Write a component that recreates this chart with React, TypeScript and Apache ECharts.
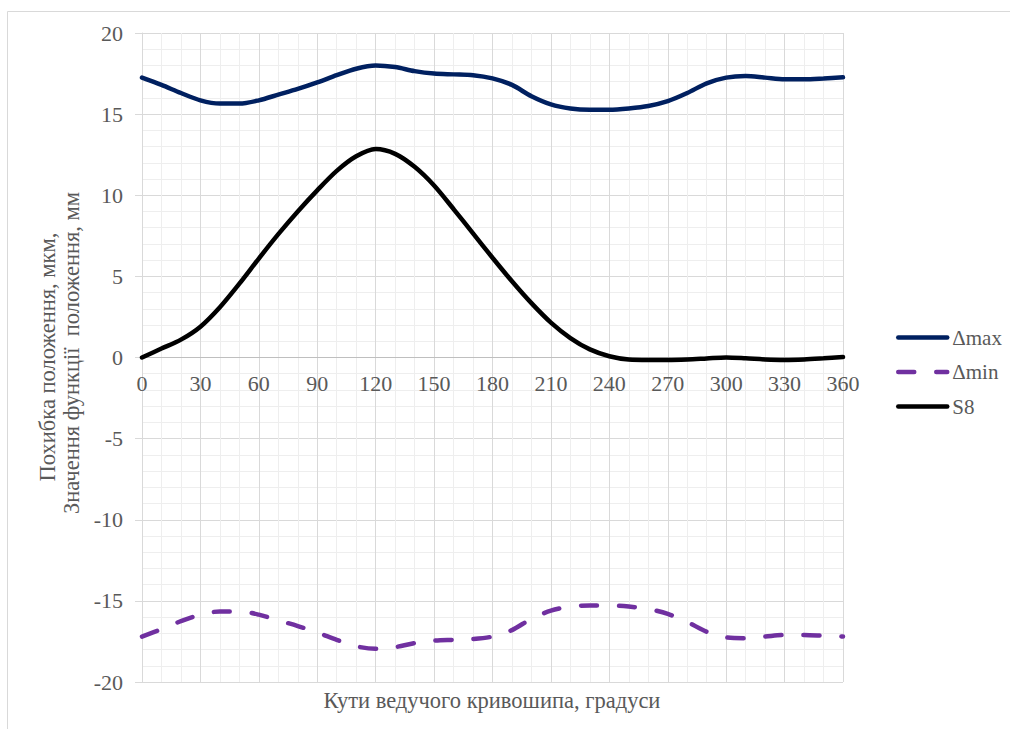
import React, { useEffect, useRef } from "react";
import * as echarts from "echarts";

const angles = [0, 10, 20, 30, 40, 50, 60, 70, 80, 90, 100, 110, 120, 130, 140, 150, 160, 170, 180, 190, 200, 210, 220, 230, 240, 250, 260, 270, 280, 290, 300, 310, 320, 330, 340, 350, 360];
const deltaMax = [17.25, 16.8, 16.3, 15.85, 15.65, 15.65, 15.85, 16.2, 16.55, 16.95, 17.4, 17.8, 18.0, 17.9, 17.65, 17.5, 17.45, 17.4, 17.2, 16.8, 16.1, 15.6, 15.35, 15.27, 15.27, 15.35, 15.5, 15.8, 16.3, 16.9, 17.25, 17.35, 17.25, 17.15, 17.15, 17.2, 17.27];
const deltaMin = [-17.2, -16.75, -16.25, -15.85, -15.65, -15.65, -15.85, -16.2, -16.55, -16.95, -17.4, -17.8, -17.95, -17.85, -17.6, -17.45, -17.4, -17.35, -17.2, -16.8, -16.1, -15.6, -15.35, -15.28, -15.28, -15.35, -15.5, -15.8, -16.3, -16.9, -17.25, -17.3, -17.2, -17.1, -17.1, -17.15, -17.2];
const s8 = [0, 0.55, 1.1, 1.9, 3.1, 4.55, 6.1, 7.6, 9.0, 10.3, 11.5, 12.4, 12.85, 12.55, 11.75, 10.6, 9.15, 7.65, 6.15, 4.7, 3.35, 2.15, 1.2, 0.5, 0.08, -0.12, -0.15, -0.15, -0.12, -0.06, 0.0, -0.05, -0.12, -0.15, -0.12, -0.05, 0.03];
const xTicks = [0, 30, 60, 90, 120, 150, 180, 210, 240, 270, 300, 330, 360];
const yTicks = [-20, -15, -10, -5, 0, 5, 10, 15, 20];
const seriesNames = ["Δmax", "Δmin", "S8"];
const xTitle = "Кути ведучого кривошипа, градуси";
const yTitle1 = "Похибка положення, мкм,";
const yTitle2 = "Значення функції  положення, мм";

const FONT = "Liberation Serif";
const TEXT = "#595959";
const GRID_TOP = 33;
const GRID_BOTTOM = 47;
const CHART_H = 729;

export default function App() {
  const ref = useRef<HTMLDivElement>(null);
  useEffect(() => {
    if (!ref.current) return;
    const chart = echarts.init(ref.current, null, { renderer: "svg" });
    const pair = (arr: number[]) => angles.map((a, i) => [a, arr[i]]);
    const plotH = CHART_H - GRID_TOP - GRID_BOTTOM;
    const yMin = yTicks[0];
    const yMax = yTicks[yTicks.length - 1];
    // move the x axis (line + labels) up to the zero level of the y axis
    const zeroOffset = -plotH * (0 - yMin) / (yMax - yMin);
    chart.setOption({
      animation: false,
      backgroundColor: "#ffffff",
      textStyle: { fontFamily: FONT },
      grid: { left: 142, right: 167, top: GRID_TOP, bottom: GRID_BOTTOM, containLabel: false },
      xAxis: {
        type: "value",
        min: xTicks[0],
        max: xTicks[xTicks.length - 1],
        interval: 30,
        offset: zeroOffset,
        axisLine: { onZero: false, lineStyle: { color: "#bfbfbf", width: 1 } },
        axisTick: { show: false },
        axisLabel: { color: TEXT, fontSize: 22, fontFamily: FONT, margin: 15 },
        splitLine: { show: true, lineStyle: { color: "#d9d9d9", width: 1 } },
        minorTick: { show: false, splitNumber: 3 },
        minorSplitLine: { show: true, lineStyle: { color: "#eeeeee", width: 1 } },
      },
      yAxis: {
        type: "value",
        min: yMin,
        max: yMax,
        interval: 5,
        axisLine: { show: true, onZero: false, lineStyle: { color: "#d9d9d9" } },
        axisTick: { show: true, length: 7, lineStyle: { color: "#d9d9d9" } },
        axisLabel: { color: TEXT, fontSize: 22, fontFamily: FONT, margin: 19 },
        splitLine: { show: true, lineStyle: { color: "#d9d9d9", width: 1 } },
        minorTick: { show: false, splitNumber: 5 },
        minorSplitLine: { show: true, lineStyle: { color: "#eeeeee", width: 1 } },
      },
      legend: {
        orient: "vertical",
        left: 891,
        top: 322,
        itemWidth: 49,
        itemHeight: 14,
        itemGap: 13.5,
        itemStyle: { opacity: 0 },
        lineStyle: { width: 4.5, cap: "round" },
        textStyle: { color: TEXT, fontSize: 21, fontFamily: FONT, padding: [0, 0, 0, 0] },
        data: seriesNames,
      },
      series: [
        {
          name: seriesNames[0],
          type: "line",
          data: pair(deltaMax),
          smooth: 0.3,
          symbol: "none",
          lineStyle: { color: "#002060", width: 4.5, cap: "round" },
          itemStyle: { color: "#002060" },
        },
        {
          name: seriesNames[1],
          type: "line",
          data: pair(deltaMin),
          smooth: 0.3,
          symbol: "none",
          lineStyle: { color: "#7030A0", width: 4.5, type: [16, 22], cap: "round" },
          itemStyle: { color: "#7030A0" },
        },
        {
          name: seriesNames[2],
          type: "line",
          data: pair(s8),
          smooth: 0.3,
          symbol: "none",
          lineStyle: { color: "#000000", width: 4.5, cap: "round" },
          itemStyle: { color: "#000000" },
        },
      ],
      graphic: [
        {
          type: "rect",
          silent: true,
          shape: { x: 7.5, y: 11.5, width: 1100, height: 800 },
          style: { fill: "none", stroke: "#d9d9d9", lineWidth: 1 },
        },
        {
          type: "text",
          x: 492,
          y: 700,
          style: { text: xTitle, fill: TEXT, fontSize: 22.5, fontFamily: FONT, textAlign: "center", textVerticalAlign: "middle" },
        },
        {
          type: "text",
          x: 47,
          y: 357,
          rotation: Math.PI / 2,
          style: { text: yTitle1, fill: TEXT, fontSize: 22.5, fontFamily: FONT, textAlign: "center", textVerticalAlign: "middle" },
        },
        {
          type: "text",
          x: 71,
          y: 353,
          rotation: Math.PI / 2,
          style: { text: yTitle2, fill: TEXT, fontSize: 22.5, fontFamily: FONT, textAlign: "center", textVerticalAlign: "middle" },
        },
      ],
    });
    return () => chart.dispose();
  }, []);
  return (
    <div
      ref={ref}
      style={{ position: "fixed", left: 0, top: 0, width: 1010, height: 729 }}
    />
  );
}
